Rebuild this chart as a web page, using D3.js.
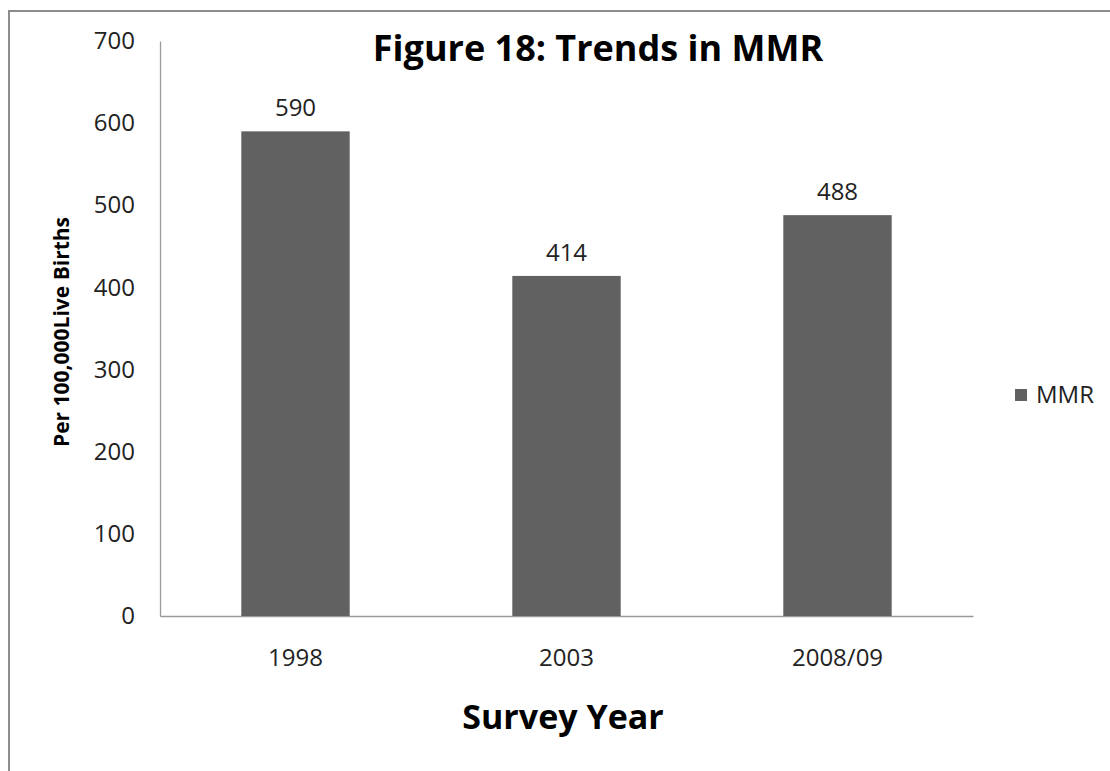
<!DOCTYPE html>
<html>
<head>
<meta charset="utf-8">
<script src="https://cdn.jsdelivr.net/npm/d3@7"></script>
<style>
  html, body { margin: 0; padding: 0; background: #fff; }
  svg { display: block; font-family: "Open Sans", sans-serif; }
</style>
</head>
<body>
<svg id="chart" width="1110" height="771"></svg>
<script>
// Maternal mortality ratio by survey year
const years = ["1998", "2003", "2008/09"];
const mmrValues = [590, 414, 488];
const yTicks = [0, 100, 200, 300, 400, 500, 600, 700];
const seriesName = "MMR";

const FONT = "'Open Sans', sans-serif";
const svg = d3.select("#chart");
const W = 1110, H = 771;
const margin = { left: 160, right: W - 973, top: 41, bottom: H - 616 };

// chart frame
svg.append("rect")
  .attr("x", 9).attr("y", 11)
  .attr("width", W + 10).attr("height", H + 10)
  .attr("fill", "#fff")
  .attr("stroke", "#8c8c8c").attr("stroke-width", 2);

const x = d3.scaleBand()
  .domain(years)
  .range([margin.left, W - margin.right])
  .paddingInner(0.6).paddingOuter(0.3);

const y = d3.scaleLinear()
  .domain([0, 700])
  .range([H - margin.bottom, margin.top]);

// y axis
const yAxis = svg.append("g")
  .attr("transform", `translate(${margin.left},0)`)
  .call(d3.axisLeft(y).tickValues(yTicks).tickSize(0).tickPadding(25));
yAxis.select(".domain").attr("stroke", "#9a9a9a").attr("stroke-width", 1.3);
yAxis.selectAll("text").attr("font-size", 24).attr("fill", "#222")
  .attr("font-family", FONT);

// x axis
const xAxis = svg.append("g")
  .attr("transform", `translate(0,${H - margin.bottom})`)
  .call(d3.axisBottom(x).tickSize(0).tickPadding(33));
xAxis.select(".domain").attr("stroke", "#9a9a9a").attr("stroke-width", 1.3);
xAxis.selectAll("text").attr("font-size", 24).attr("fill", "#222")
  .attr("font-family", FONT);

// bars
const rows = years.map((yr, i) => ({ yr, v: mmrValues[i] }));
svg.append("g").selectAll("rect")
  .data(rows)
  .join("rect")
  .attr("x", d => x(d.yr))
  .attr("y", d => y(d.v))
  .attr("width", x.bandwidth())
  .attr("height", d => y(0) - y(d.v))
  .attr("fill", "#616161");

// value labels
svg.append("g").selectAll("text")
  .data(rows)
  .join("text")
  .attr("x", d => x(d.yr) + x.bandwidth() / 2)
  .attr("y", d => y(d.v) - 15)
  .attr("text-anchor", "middle")
  .attr("font-size", 24).attr("fill", "#222")
  .text(d => d.v);

// title
svg.append("text")
  .attr("x", 598).attr("y", 61)
  .attr("text-anchor", "middle")
  .attr("font-size", 36).attr("font-weight", "bold").attr("fill", "#000")
  .text("Figure 18: Trends in MMR");

// axis titles
svg.append("text")
  .attr("transform", `translate(69,332) rotate(-90)`)
  .attr("text-anchor", "middle")
  .attr("font-size", 21).attr("font-weight", "bold").attr("fill", "#000")
  .text("Per 100,000Live Births");

svg.append("text")
  .attr("x", 563).attr("y", 729)
  .attr("text-anchor", "middle")
  .attr("font-size", 34).attr("font-weight", "bold").attr("fill", "#000")
  .text("Survey Year");

// legend
const lg = svg.append("g").attr("transform", "translate(1015,389)");
lg.append("rect").attr("width", 12).attr("height", 12).attr("fill", "#616161");
lg.append("text").attr("x", 21).attr("y", 14)
  .attr("font-size", 24).attr("fill", "#222").text(seriesName);
</script>
</body>
</html>
